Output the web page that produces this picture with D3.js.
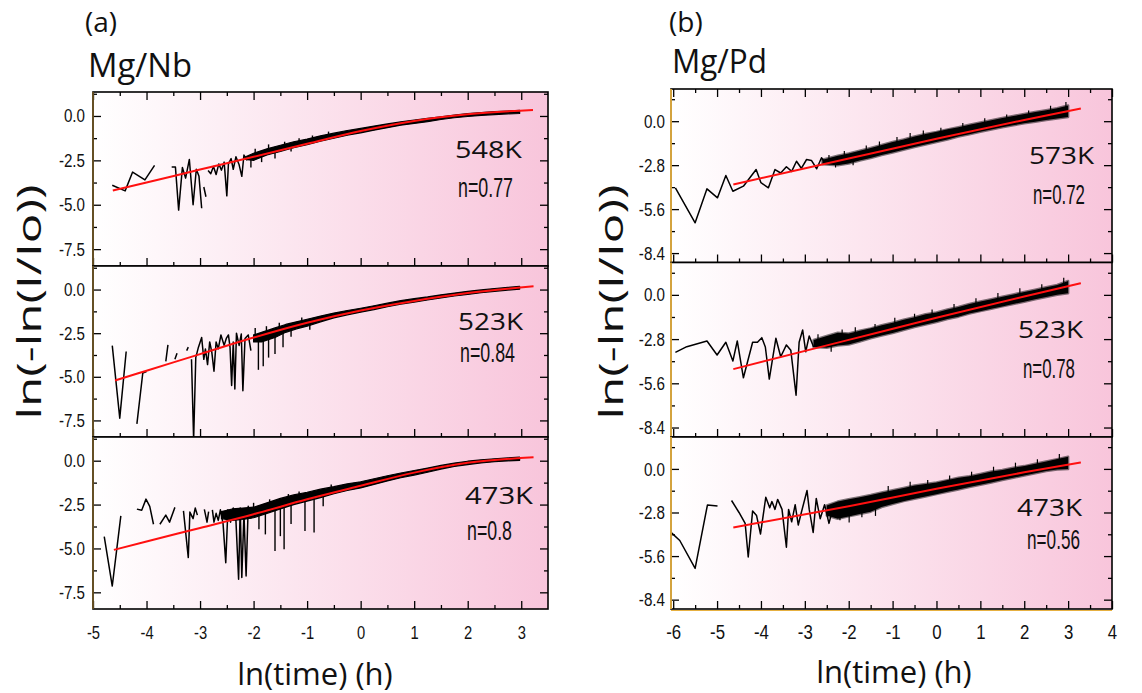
<!DOCTYPE html>
<html>
<head>
<meta charset="utf-8">
<script src="https://cdn.jsdelivr.net/npm/d3@7"></script>
<style>
	body { margin: 0; background: #fff; }
	svg { display: block; }
</style>
</head>
<body>
<div id="graphicContainer"></div>
<script>

// ---- axis ticks / labels ----
var nbXTicks = [-5, -4, -3, -2, -1, 0, 1, 2, 3];
var nbXMinor = [-4.5, -3.5, -2.5, -1.5, -0.5, 0.5, 1.5, 2.5];
var nbYTicks = [0, -2.5, -5, -7.5];
var nbYMinor = [1.25, -1.25, -3.75, -6.25];

var pdXTicks = [-6, -5, -4, -3, -2, -1, 0, 1, 2, 3, 4];
var pdXMinor = [-5.5, -4.5, -3.5, -2.5, -1.5, -0.5, 0.5, 1.5, 2.5, 3.5];
var pdYTicks = [0, -2.8, -5.6, -8.4];
var pdYMinor = [1.4, -1.4, -4.2, -7.0];

var nbTemps = ["548K", "523K", "473K"];
var nbExponents = ["n=0.77", "n=0.84", "n=0.8"];
var pdTemps = ["573K", "523K", "473K"];
var pdExponents = ["n=0.72", "n=0.78", "n=0.56"];

// ---- Mg/Nb data ----
// raw: [lnt, value], null = gap in the trace
var nb548Raw = [[-4.64,-3.9],[-4.4,-4.22],[-4.26,-3.16],[-4.03,-3.6],[-3.85,-2.78], null,
	[-3.53,-2.88],[-3.46,-2.88],[-3.40,-5.3],[-3.33,-2.9],[-3.27,-3.5],[-3.2,-2.45],[-3.13,-5.0],[-3.07,-3.0],[-3.02,-3.4],[-2.97,-5.2], null,
	[-2.93,-4.0],[-2.89,-4.55], null,
	[-2.85,-3.07],[-2.8,-3.25],[-2.75,-2.85],[-2.7,-3.3],[-2.65,-2.7],[-2.6,-3.05],[-2.55,-2.6],[-2.5,-4.5],[-2.47,-2.7],[-2.42,-2.4],[-2.38,-3.0],[-2.33,-2.3],[-2.27,-2.75],[-2.22,-3.4],[-2.18,-2.2],[-2.12,-2.5]];
// band: [lnt, low, high] of the dense noisy trace
var nb548Band = [[-2.15,-2.45,-2.3],[-2.0,-2.5,-2.1],[-1.75,-2.2,-1.85],[-1.5,-2.0,-1.65],[-1.25,-1.78,-1.45],[-1.0,-1.62,-1.3],[-0.75,-1.42,-1.12],[-0.5,-1.25,-0.97],[-0.25,-1.08,-0.82],[0,-0.95,-0.7],[0.25,-0.8,-0.57],[0.5,-0.66,-0.45],[0.75,-0.52,-0.33],[1.0,-0.42,-0.23],[1.25,-0.32,-0.14],[1.5,-0.2,-0.05],[1.75,-0.1,0.05],[2.0,-0.03,0.13],[2.25,0.03,0.19],[2.5,0.08,0.24],[2.75,0.12,0.28],[2.97,0.14,0.31]];
// spikes: [lnt, from, to]
var nb548Spikes = [[-2.05,-2.3,-2.9],[-1.97,-2.2,-1.85],[-1.85,-2.1,-2.6],[-1.72,-1.9,-1.6],[-1.6,-1.9,-2.4],[-1.42,-1.7,-1.45],[-1.3,-1.6,-2.0],[-1.15,-1.5,-1.25],[-0.9,-1.4,-1.1],[-0.6,-1.2,-0.88]];
var nb548Fit = [[-4.63,-4.2],[-4,-3.75],[-3,-3.02],[-2,-2.3],[-1,-1.57],[0,-0.85],[1,-0.28],[2,0.1],[3.22,0.34]];

var nb523Raw = [[-4.64,-3.21],[-4.5,-7.37],[-4.38,-3.55], null,
	[-4.18,-7.7],[-4.07,-4.78],[-4.0,-4.7], null,
	[-3.64,-4.12],[-3.6,-3.17], null,
	[-3.47,-4.0],[-3.43,-3.65], null,
	[-3.25,-3.5],[-3.22,-3.3], null,
	[-3.16,-4.0],[-3.12,-8.6],[-3.08,-3.9],[-3.03,-3.3],[-2.97,-2.75],[-2.93,-4.0],[-2.9,-3.4],[-2.86,-4.3],[-2.82,-3.0],[-2.78,-3.6],[-2.74,-4.68],[-2.7,-3.0],[-2.66,-3.4],[-2.61,-2.6],[-2.55,-3.2],[-2.51,-2.8],[-2.47,-2.6],[-2.44,-3.3],[-2.41,-5.5],[-2.38,-3.0],[-2.35,-5.7],[-2.32,-2.5],[-2.27,-3.2],[-2.23,-2.55],[-2.2,-5.8],[-2.16,-2.8],[-2.1,-2.6],[-2.05,-3.5]];
var nb523Band = [[-2.0,-3.0,-2.6],[-1.85,-3.0,-2.45],[-1.6,-2.75,-2.2],[-1.4,-2.45,-2.0],[-1.2,-2.25,-1.85],[-1.0,-2.1,-1.7],[-0.75,-1.85,-1.52],[-0.5,-1.62,-1.35],[-0.25,-1.45,-1.2],[0,-1.3,-1.07],[0.25,-1.15,-0.93],[0.5,-0.98,-0.78],[0.75,-0.83,-0.63],[1.0,-0.72,-0.52],[1.25,-0.6,-0.42],[1.5,-0.48,-0.3],[1.75,-0.37,-0.2],[2.0,-0.28,-0.1],[2.25,-0.18,-0.02],[2.5,-0.1,0.06],[2.75,-0.03,0.12],[2.97,0.02,0.18]];
var nb523Spikes = [[-1.97,-2.6,-2.2],[-1.91,-2.9,-4.6],[-1.82,-2.8,-4.4],[-1.76,-2.5,-2.1],[-1.72,-2.7,-3.9],[-1.6,-2.6,-3.7],[-1.52,-2.2,-1.9],[-1.45,-2.3,-3.3],[-1.3,-2.1,-2.7],[-1.1,-1.9,-1.6],[-0.95,-1.9,-2.3]];
var nb523Fit = [[-4.59,-5.21],[-4,-4.65],[-3,-3.7],[-2,-2.75],[-1,-1.9],[0,-1.2],[1,-0.65],[2,-0.2],[3.23,0.19]];

var nb473Raw = [[-4.79,-4.32],[-4.64,-7.14],[-4.48,-3.14], null,
	[-4.18,-2.76],[-4.09,-2.82],[-4.01,-2.19],[-3.94,-2.6],[-3.87,-3.62], null,
	[-3.75,-3.62],[-3.64,-3.1],[-3.57,-3.5],[-3.47,-2.66], null,
	[-3.31,-2.86],[-3.22,-5.52],[-3.19,-2.93],[-3.13,-3.3],[-3.09,-2.7],[-3.05,-3.1], null,
	[-2.92,-2.77],[-2.87,-3.5],[-2.84,-2.9], null,
	[-2.77,-2.8],[-2.74,-3.5],[-2.7,-3.0],[-2.66,-3.4],[-2.62,-2.8],[-2.57,-3.6],[-2.52,-5.81],[-2.48,-2.8],[-2.43,-3.5],[-2.38,-2.7],[-2.33,-3.4],[-2.28,-6.76],[-2.25,-2.7],[-2.22,-6.66],[-2.18,-3.0],[-2.14,-6.57],[-2.1,-2.6],[-2.05,-3.3]];
var nb473Band = [[-2.6,-3.3,-2.9],[-2.4,-3.4,-2.75],[-2.2,-3.35,-2.7],[-2.0,-3.25,-2.65],[-1.75,-3.0,-2.4],[-1.5,-2.75,-2.15],[-1.25,-2.5,-1.95],[-1.0,-2.3,-1.8],[-0.75,-2.1,-1.62],[-0.5,-1.88,-1.48],[-0.25,-1.7,-1.32],[0,-1.55,-1.2],[0.25,-1.35,-1.03],[0.5,-1.15,-0.86],[0.75,-0.97,-0.7],[1.0,-0.82,-0.56],[1.25,-0.66,-0.42],[1.5,-0.48,-0.27],[1.75,-0.33,-0.13],[2.0,-0.22,-0.03],[2.25,-0.13,0.05],[2.5,-0.06,0.11],[2.75,-0.01,0.16],[2.97,0.02,0.2]];
var nb473Spikes = [[-2.0,-2.9,-2.4],[-1.9,-3.0,-3.9],[-1.78,-2.8,-4.2],[-1.7,-2.6,-2.2],[-1.6,-2.6,-5.14],[-1.5,-2.5,-4.3],[-1.43,-2.4,-5.05],[-1.35,-2.2,-1.9],[-1.3,-2.3,-3.6],[-1.15,-2.0,-1.75],[-1.04,-2.2,-4.0],[-0.87,-2.0,-4.09],[-0.7,-1.8,-2.6],[-0.55,-1.6,-1.35]];
var nb473Fit = [[-4.61,-5.08],[-4,-4.6],[-3,-3.83],[-2,-3.05],[-1,-2.2],[0,-1.43],[1,-0.68],[2,-0.12],[3.23,0.19]];

// ---- Mg/Pd data ----
var pd573Raw = [[-5.95,-4.24],[-5.5,-6.47],[-5.23,-4.31],[-4.99,-4.88],[-4.8,-3.46],[-4.64,-4.46],[-4.4,-4.14],[-4.11,-3.08],[-4.0,-3.92],[-3.83,-4.24],[-3.68,-3.08],[-3.55,-3.3],[-3.42,-2.9],[-3.3,-3.2],[-3.19,-2.55],[-3.08,-3.0],[-2.96,-2.44],[-2.85,-2.5],[-2.73,-3.03],[-2.62,-2.33],[-2.55,-2.6]];
var pd573Band = [[-2.6,-2.75,-2.45],[-2.25,-2.8,-2.2],[-2.0,-2.7,-2.05],[-1.75,-2.5,-1.88],[-1.5,-2.35,-1.7],[-1.25,-2.15,-1.52],[-1.0,-2.0,-1.33],[-0.75,-1.82,-1.17],[-0.5,-1.65,-0.98],[-0.25,-1.48,-0.82],[0,-1.32,-0.68],[0.25,-1.17,-0.52],[0.5,-0.98,-0.38],[0.75,-0.83,-0.23],[1.0,-0.68,-0.08],[1.25,-0.53,0.06],[1.5,-0.38,0.2],[1.75,-0.26,0.33],[2.0,-0.13,0.46],[2.25,-0.03,0.58],[2.5,0.07,0.7],[2.75,0.17,0.83],[3.0,0.27,1.0]];
var pd573Spikes = [[-2.45,-2.5,-2.15],[-2.3,-2.6,-2.95],[-2.1,-2.3,-1.9],[-1.9,-2.4,-2.8],[-1.6,-2.0,-1.55],[-1.3,-1.8,-1.3],[-0.9,-1.5,-1.0],[-0.6,-1.3,-0.75],[-0.3,-1.1,-0.6],[0.1,-0.9,-0.42],[0.6,-0.6,-0.12],[1.1,-0.35,0.18],[1.6,-0.1,0.42],[2.1,0.2,0.68],[2.6,0.4,0.98],[2.95,0.6,1.22]];
var pd573Fit = [[-4.63,-4.03],[-2,-2.38],[0,-1.12],[2,0.08],[3.29,0.81]];

var pd523Raw = [[-5.95,-3.64],[-5.69,-3.28],[-5.23,-2.92],[-5.0,-3.81],[-4.8,-3.0],[-4.64,-4.19],[-4.54,-2.92],[-4.4,-5.25],[-4.19,-3.0],[-4.08,-3.0],[-3.98,-2.71],[-3.9,-3.3],[-3.81,-5.33],[-3.66,-2.75],[-3.55,-3.92],[-3.42,-3.17],[-3.32,-3.5],[-3.2,-6.35],[-3.13,-3.0],[-3.05,-2.22],[-2.98,-3.6],[-2.9,-2.6],[-2.8,-3.3]];
var pd523Band = [[-2.8,-3.3,-2.85],[-2.5,-3.35,-2.6],[-2.25,-3.2,-2.4],[-2.0,-3.15,-2.45],[-1.75,-2.95,-2.27],[-1.5,-2.75,-2.12],[-1.25,-2.57,-1.92],[-1.0,-2.42,-1.77],[-0.75,-2.22,-1.57],[-0.5,-2.03,-1.42],[-0.25,-1.87,-1.22],[0,-1.72,-1.12],[0.25,-1.53,-0.92],[0.5,-1.38,-0.77],[0.75,-1.18,-0.57],[1.0,-1.03,-0.42],[1.25,-0.88,-0.27],[1.5,-0.73,-0.12],[1.75,-0.58,0.03],[2.0,-0.43,0.18],[2.25,-0.28,0.33],[2.5,-0.14,0.48],[2.75,0.0,0.63],[3.0,0.1,0.88]];
var pd523Spikes = [[-2.7,-3.0,-2.5],[-2.4,-3.0,-3.6],[-2.15,-2.8,-2.2],[-1.85,-2.6,-2.05],[-1.4,-2.4,-1.85],[-0.95,-2.0,-1.45],[-0.5,-1.7,-1.2],[-0.1,-1.5,-0.92],[0.4,-1.1,-0.58],[0.9,-0.8,-0.22],[1.4,-0.4,0.12],[1.9,-0.1,0.42],[2.4,0.15,0.68],[2.9,0.5,1.08]];
var pd523Fit = [[-4.63,-4.7],[-2,-2.85],[0,-1.45],[2,-0.1],[3.29,0.74]];

var pd473Raw = [[-6.05,-4.08],[-5.85,-4.6],[-5.5,-6.39],[-5.22,-2.32],[-4.99,-2.39], null,
	[-4.67,-2.03],[-4.5,-2.8],[-4.36,-3.5],[-4.29,-5.66],[-4.19,-2.7],[-4.1,-3.0],[-4.01,-4.18],[-3.89,-1.82],[-3.8,-2.5],[-3.75,-2.1],[-3.68,-2.6],[-3.62,-1.96],[-3.52,-2.6],[-3.42,-5.03],[-3.37,-2.6],[-3.3,-3.4],[-3.22,-2.3],[-3.15,-3.6],[-3.08,-2.8],[-2.95,-1.39],[-2.9,-2.6],[-2.81,-4.08],[-2.74,-1.9],[-2.65,-3.2],[-2.55,-2.3],[-2.45,-3.5],[-2.35,-2.4]];
var pd473Band = [[-2.5,-3.0,-2.35],[-2.25,-3.2,-2.1],[-2.0,-3.05,-1.95],[-1.75,-2.9,-1.82],[-1.5,-2.75,-1.68],[-1.25,-2.45,-1.52],[-1.0,-2.25,-1.37],[-0.75,-2.07,-1.22],[-0.5,-1.92,-1.07],[-0.25,-1.77,-0.97],[0,-1.62,-0.87],[0.25,-1.47,-0.72],[0.5,-1.32,-0.57],[0.75,-1.17,-0.47],[1.0,-1.02,-0.32],[1.25,-0.87,-0.17],[1.5,-0.72,-0.07],[1.75,-0.57,0.08],[2.0,-0.43,0.18],[2.25,-0.28,0.33],[2.5,-0.14,0.48],[2.75,-0.04,0.63],[3.0,0.0,0.78]];
var pd473Spikes = [[-2.2,-2.2,-3.3],[-1.99,-2.3,-3.44],[-1.7,-2.0,-3.1],[-1.39,-1.9,-3.02],[-1.1,-1.6,-1.1],[-0.6,-1.4,-0.82],[-0.2,-1.2,-0.72],[0.3,-0.9,-0.42],[0.8,-0.6,-0.18],[1.3,-0.4,0.14],[1.8,-0.1,0.4],[2.3,0.1,0.62],[2.8,0.3,0.95]];
var pd473Fit = [[-4.63,-3.76],[-2,-2.4],[0,-1.28],[2,-0.22],[3.29,0.42]];


var width = 1142, height = 693;

var svg = d3.select("#graphicContainer").append("svg")
	.attr("width", width)
	.attr("height", height);

var defs = svg.append("defs");

var grad = defs.append("linearGradient")
	.attr("id", "pinkFade")
	.attr("x1", "0").attr("x2", "1").attr("y1", "0").attr("y2", "0");
grad.append("stop").attr("offset", "0%").attr("stop-color", "#ffffff");
grad.append("stop").attr("offset", "100%").attr("stop-color", "#f8c5db");

var sides = [
	{
		letter: "(a)", title: "Mg/Nb", left: 93, right: 548, tops: [92, 266, 437], bottom: 609,
		xDomain: [-5, 3.5], yDomain: [-8.45, 1.35],
		xTicks: nbXTicks, xMinor: nbXMinor, yTicks: nbYTicks, yMinor: nbYMinor,
		yFont: 18.5, yPad: 8, xFont: 18, xPad: 17, squeeze: 0.82,
		edge: "#6b5424", bandStroke: "#000",
		letterPos: [85, 32], titlePos: [88, 77], titleLen: 104,
		xLabelPos: [315, 685], yLabelX: 41,
		temps: nbTemps, exps: nbExponents,
		series: [
			{raw: nb548Raw, band: nb548Band, spikes: nb548Spikes, fit: nb548Fit, tPos: [362, 66], tLen: 67, nPos: [365, 105], nLen: 55},
			{raw: nb523Raw, band: nb523Band, spikes: nb523Spikes, fit: nb523Fit, tPos: [365, 64], tLen: 65, nPos: [367, 96], nLen: 55},
			{raw: nb473Raw, band: nb473Band, spikes: nb473Spikes, fit: nb473Fit, tPos: [372, 67], tLen: 68, nPos: [374, 103], nLen: 45}
		]
	},
	{
		letter: "(b)", title: "Mg/Pd", left: 671, right: 1112, tops: [89, 262.5, 437], bottom: 609,
		xDomain: [-6.05, 4], yDomain: [-9.0, 2.05],
		xTicks: pdXTicks, xMinor: pdXMinor, yTicks: pdYTicks, yMinor: pdYMinor,
		yFont: 19, yPad: 6, xFont: 21, xPad: 15, squeeze: 0.8,
		edge: "#e6b040", bandStroke: "rgba(0,0,0,0.5)",
		letterPos: [669, 32], titlePos: [672, 73], titleLen: 95,
		xLabelPos: [894, 683], yLabelX: 623,
		temps: pdTemps, exps: pdExponents,
		series: [
			{raw: pd573Raw, band: pd573Band, spikes: pd573Spikes, fit: pd573Fit, tPos: [358, 75], tLen: 65, nPos: [362, 115], nLen: 52},
			{raw: pd523Raw, band: pd523Band, spikes: pd523Spikes, fit: pd523Fit, tPos: [347, 75.5], tLen: 65, nPos: [352, 115.5], nLen: 52},
			{raw: pd473Raw, band: pd473Band, spikes: pd473Spikes, fit: pd473Fit, tPos: [346, 79], tLen: 65, nPos: [356, 112], nLen: 53}
		]
	}
];

var fmtY = d => d.toFixed(1);
var fmtX = d => String(d);

function styleTicks(g) {
	g.select(".domain").remove();
	g.selectAll(".tick line").attr("stroke", "#000").attr("stroke-width", 1.3);
}

sides.forEach(function(s, si) {

	var side = svg.append("g").attr("class", "side");

	var x = d3.scaleLinear().domain(s.xDomain).range([s.left, s.right]);

	s.series.forEach(function(ser, i) {

		var top = s.tops[i];
		var bot = i < 2 ? s.tops[i + 1] : s.bottom;

		var y = d3.scaleLinear().domain(s.yDomain).range([bot, top]);

		var panel = side.append("g").attr("class", "panel");

		panel.append("rect")
			.attr("x", s.left).attr("y", top)
			.attr("width", s.right - s.left).attr("height", bot - top)
			.attr("fill", "url(#pinkFade)");

		var clipId = "clip" + si + "_" + i;
		defs.append("clipPath").attr("id", clipId)
			.append("rect")
			.attr("x", s.left).attr("y", top)
			.attr("width", s.right - s.left).attr("height", bot - top);

		var plot = panel.append("g").attr("clip-path", "url(#" + clipId + ")");

		// dense part of the trace
		var area = d3.area()
			.x(d => x(d[0]))
			.y0(d => y(d[1]))
			.y1(d => y(d[2]));

		plot.append("path")
			.datum(ser.band)
			.attr("d", area)
			.attr("fill", "#000")
			.attr("stroke", s.bandStroke)
			.attr("stroke-width", si == 1 ? 2.5 : 1.2)
			.attr("stroke-linejoin", "round");

		plot.selectAll(".spike")
			.data(ser.spikes)
			.enter()
			.append("line")
			.attr("class", "spike")
			.attr("x1", d => x(d[0])).attr("x2", d => x(d[0]))
			.attr("y1", d => y(d[1])).attr("y2", d => y(d[2]))
			.attr("stroke", "#000")
			.attr("stroke-width", si == 1 ? 1.2 : 1.4);

		var line = d3.line()
			.defined(d => d != null)
			.x(d => x(d[0]))
			.y(d => y(d[1]));

		plot.append("path")
			.datum(ser.raw)
			.attr("d", line)
			.attr("fill", "none")
			.attr("stroke", "#000")
			.attr("stroke-width", 1.5)
			.attr("stroke-linejoin", "round");

		var fitLine = d3.line()
			.curve(d3.curveMonotoneX)
			.x(d => x(d[0]))
			.y(d => y(d[1]));

		plot.append("path")
			.datum(ser.fit)
			.attr("d", fitLine)
			.attr("fill", "none")
			.attr("stroke", "#ff1010")
			.attr("stroke-width", 2);

		// ticks, all pointing inwards
		var yl = panel.append("g").attr("transform", "translate(" + s.left + ",0)")
			.call(d3.axisLeft(y).tickValues(s.yTicks).tickSize(-8).tickPadding(s.yPad).tickFormat(fmtY));
		styleTicks(yl);
		yl.selectAll("text")
			.attr("font-family", "'Liberation Sans', Arial, sans-serif")
			.attr("font-size", s.yFont)
			.attr("fill", "#111")
			.attr("transform", "scale(" + s.squeeze + ",1)")
			.attr("x", -s.yPad / s.squeeze);

		var ylm = panel.append("g").attr("transform", "translate(" + s.left + ",0)")
			.call(d3.axisLeft(y).tickValues(s.yMinor).tickSize(-4).tickFormat(""));
		styleTicks(ylm);

		var yr = panel.append("g").attr("transform", "translate(" + s.right + ",0)")
			.call(d3.axisRight(y).tickValues(s.yTicks).tickSize(-8).tickFormat(""));
		styleTicks(yr);
		var yrm = panel.append("g").attr("transform", "translate(" + s.right + ",0)")
			.call(d3.axisRight(y).tickValues(s.yMinor).tickSize(-4).tickFormat(""));
		styleTicks(yrm);

		var xb = panel.append("g").attr("transform", "translate(0," + bot + ")")
			.call(d3.axisBottom(x).tickValues(s.xTicks).tickSize(-8).tickPadding(s.xPad).tickFormat(i == 2 ? fmtX : ""));
		styleTicks(xb);
		xb.selectAll("text")
			.attr("font-family", "'Liberation Sans', Arial, sans-serif")
			.attr("font-size", s.xFont)
			.attr("fill", "#111")
			.attr("transform", "scale(" + s.squeeze + ",1)")
			.attr("x", 0);
		var xbm = panel.append("g").attr("transform", "translate(0," + bot + ")")
			.call(d3.axisBottom(x).tickValues(s.xMinor).tickSize(-4).tickFormat(""));
		styleTicks(xbm);

		if (i == 0) {
			var xt = panel.append("g").attr("transform", "translate(0," + top + ")")
				.call(d3.axisTop(x).tickValues(s.xTicks).tickSize(-8).tickFormat(""));
			styleTicks(xt);
			var xtm = panel.append("g").attr("transform", "translate(0," + top + ")")
				.call(d3.axisTop(x).tickValues(s.xMinor).tickSize(-4).tickFormat(""));
			styleTicks(xtm);
		}

		// frame
		panel.append("rect")
			.attr("x", s.left).attr("y", top)
			.attr("width", s.right - s.left).attr("height", bot - top)
			.attr("fill", "none")
			.attr("stroke", "#000")
			.attr("stroke-width", 1.6);

		panel.append("line")
			.attr("x1", s.left).attr("x2", s.left)
			.attr("y1", top).attr("y2", bot)
			.attr("stroke", s.edge)
			.attr("stroke-width", 1.8);

		// temperature and Avrami exponent
		panel.append("text")
			.attr("x", s.left + ser.tPos[0]).attr("y", top + ser.tPos[1])
			.attr("font-family", "'Open Sans', sans-serif")
			.attr("font-size", 24)
			.attr("textLength", ser.tLen)
			.attr("lengthAdjust", "spacingAndGlyphs")
			.attr("fill", "#111")
			.text(s.temps[i]);

		panel.append("text")
			.attr("x", s.left + ser.nPos[0]).attr("y", top + ser.nPos[1])
			.attr("font-family", "'Liberation Sans', Arial, sans-serif")
			.attr("font-size", 27)
			.attr("textLength", ser.nLen)
			.attr("lengthAdjust", "spacingAndGlyphs")
			.attr("fill", "#111")
			.text(s.exps[i]);
	});

	if (si == 1) {
		side.append("line")
			.attr("x1", s.left).attr("x2", s.right)
			.attr("y1", s.bottom + 1.5).attr("y2", s.bottom + 1.5)
			.attr("stroke", s.edge)
			.attr("stroke-width", 1);
	}

	// titles and axis labels
	side.append("text")
		.attr("x", s.letterPos[0]).attr("y", s.letterPos[1])
		.attr("font-family", "'Open Sans', sans-serif")
		.attr("font-size", 28)
		.attr("fill", "#111")
		.text(s.letter);

	side.append("text")
		.attr("x", s.titlePos[0]).attr("y", s.titlePos[1])
		.attr("font-family", "'Open Sans', sans-serif")
		.attr("font-size", 32)
		.attr("textLength", s.titleLen)
		.attr("lengthAdjust", "spacingAndGlyphs")
		.attr("fill", "#111")
		.text(s.title);

	side.append("text")
		.attr("x", s.xLabelPos[0]).attr("y", s.xLabelPos[1])
		.attr("text-anchor", "middle")
		.attr("font-family", "'Open Sans', sans-serif")
		.attr("font-size", 31)
		.attr("fill", "#111")
		.text("ln(time) (h)");

	side.append("text")
		.attr("transform", "translate(" + s.yLabelX + ",302) rotate(-90)")
		.attr("text-anchor", "middle")
		.attr("font-family", "'Open Sans', sans-serif")
		.attr("font-size", 32)
		.attr("textLength", 235)
		.attr("lengthAdjust", "spacingAndGlyphs")
		.attr("fill", "#111")
		.text("ln(-ln(I/Io))");
});

</script>
</body>
</html>
